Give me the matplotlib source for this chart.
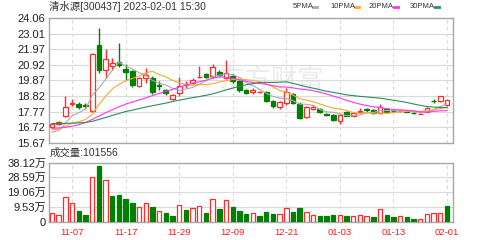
import matplotlib
matplotlib.use("Agg")
import matplotlib.pyplot as plt
from matplotlib.patches import Rectangle
from matplotlib.lines import Line2D
import numpy as np

plt.rcParams['font.family'] = ['Liberation Sans', 'Noto Sans CJK SC']

# trading days 2022-11-02 .. 2023-02-01
dates = ['11-02', '11-03', '11-04', '11-07', '11-08', '11-09', '11-10', '11-11',
         '11-14', '11-15', '11-16', '11-17', '11-18', '11-21', '11-22', '11-23',
         '11-24', '11-25', '11-28', '11-29', '11-30', '12-01', '12-02', '12-05',
         '12-06', '12-07', '12-08', '12-09', '12-12', '12-13', '12-14', '12-15',
         '12-16', '12-19', '12-20', '12-21', '12-22', '12-23', '12-26', '12-27',
         '12-28', '12-29', '12-30', '01-03', '01-04', '01-05', '01-06', '01-09',
         '01-10', '01-11', '01-12', '01-13', '01-16', '01-17', '01-18', '01-19',
         '01-20', '01-30', '01-31', '02-01']
tick_dates = ['11-07', '11-17', '11-29', '12-09', '12-21', '01-03', '01-13', '02-01']

opens = [16.75, 16.95, 17.45, 18.30, 18.29, 18.20, 17.84, 22.28, 20.54, 20.83,
         21.10, 20.66, 20.47, 19.50, 20.02, 20.04, 19.53, 19.20, 18.63, 19.03,
         19.54, 19.70, 20.07, 20.27, 20.14, 20.44, 20.04, 20.17, 19.84, 19.23,
         19.07, 19.08, 19.10, 18.50, 18.10, 18.36, 18.95, 18.30, 17.42, 17.98,
         17.94, 17.65, 17.56, 17.16, 17.76, 17.49, 17.75, 17.92, 17.89, 17.70,
         17.94, 17.85, 17.79, 17.80, 17.70, 17.62, 17.76, 18.52, 18.46, 18.20]
highs = [16.98, 17.12, 18.85, 18.65, 18.40, 18.33, 21.70, 23.36, 22.01, 21.37,
         22.37, 21.00, 20.58, 20.10, 20.69, 20.17, 19.84, 19.30, 18.95, 20.11,
         19.84, 20.00, 20.81, 20.35, 20.98, 20.57, 21.25, 20.31, 19.90, 19.30,
         19.37, 19.15, 19.15, 18.55, 18.50, 19.35, 19.00, 18.43, 18.15, 18.20,
         18.00, 17.70, 17.60, 17.60, 17.82, 17.75, 18.03, 18.00, 17.95, 18.30,
         18.00, 17.92, 17.95, 17.85, 17.74, 17.67, 18.08, 18.63, 18.85, 18.60]
lows = [16.70, 16.90, 17.42, 18.12, 17.97, 18.02, 17.72, 20.40, 20.00, 20.60,
        20.80, 19.87, 19.46, 19.44, 19.68, 18.97, 19.23, 18.90, 18.58, 18.80,
        19.37, 19.64, 20.04, 20.00, 20.04, 20.11, 19.97, 19.70, 19.10, 18.95,
        18.97, 19.03, 18.45, 18.05, 17.98, 18.23, 18.30, 17.26, 17.38, 17.90,
        17.68, 17.50, 17.15, 16.96, 17.45, 17.45, 17.70, 17.78, 17.65, 17.65,
        17.68, 17.75, 17.72, 17.72, 17.60, 17.60, 17.73, 18.38, 18.42, 18.15]
closes = [16.92, 17.08, 18.10, 18.36, 18.06, 18.15, 21.67, 20.54, 21.29, 21.06,
          20.88, 20.42, 19.57, 20.02, 20.24, 19.10, 19.47, 19.00, 18.90, 19.50,
          19.64, 19.91, 20.10, 20.10, 20.78, 20.21, 20.34, 19.84, 19.20, 19.03,
          19.20, 19.10, 18.50, 18.17, 18.45, 19.10, 18.34, 17.36, 18.10, 18.06,
          17.74, 17.55, 17.19, 17.56, 17.49, 17.69, 17.85, 17.88, 17.67, 18.10,
          17.73, 17.82, 17.85, 17.77, 17.66, 17.65, 18.03, 18.47, 18.80, 18.57]

ma5 = [16.40, 16.50, 17.00, 17.50, 17.70, 17.95, 18.87, 19.36, 19.94, 20.54,
       21.09, 20.84, 20.64, 20.39, 20.23, 19.87, 19.68, 19.57, 19.34, 19.19,
       19.30, 19.39, 19.61, 19.85, 20.11, 20.22, 20.31, 20.25, 20.07, 19.72,
       19.52, 19.27, 19.01, 18.80, 18.68, 18.66, 18.51, 18.28, 18.27, 18.19,
       17.92, 17.76, 17.73, 17.62, 17.51, 17.50, 17.56, 17.69, 17.72, 17.84,
       17.85, 17.84, 17.83, 17.85, 17.77, 17.75, 17.79, 17.92, 18.12, 18.30]
ma10 = [16.55, 16.60, 16.80, 17.00, 17.10, 17.25, 17.60, 18.25, 18.80, 19.30,
        19.60, 19.85, 20.00, 20.17, 20.38, 20.48, 20.26, 20.11, 19.87, 19.71,
        19.59, 19.54, 19.59, 19.60, 19.65, 19.76, 19.85, 19.93, 19.96, 19.92,
        19.87, 19.79, 19.63, 19.44, 19.20, 19.09, 18.89, 18.65, 18.54, 18.44,
        18.29, 18.14, 18.01, 17.95, 17.85, 17.71, 17.66, 17.71, 17.67, 17.67,
        17.67, 17.70, 17.76, 17.79, 17.80, 17.80, 17.82, 17.88, 17.99, 18.04]
ma20 = [16.65, 16.68, 16.72, 16.80, 16.90, 17.05, 17.25, 17.48, 17.70, 17.90,
        18.10, 18.28, 18.42, 18.56, 18.70, 18.85, 19.00, 19.13, 19.27, 19.42,
        19.55, 19.69, 19.79, 19.88, 20.02, 20.12, 20.05, 20.02, 19.91, 19.81,
        19.73, 19.66, 19.61, 19.52, 19.43, 19.43, 19.37, 19.29, 19.25, 19.18,
        19.08, 18.96, 18.82, 18.69, 18.53, 18.40, 18.28, 18.18, 18.10, 18.06,
        17.98, 17.92, 17.89, 17.87, 17.83, 17.75, 17.74, 17.79, 17.83, 17.85]
ma30 = [16.98, 16.98, 16.99, 17.00, 17.02, 17.05, 17.12, 17.25, 17.38, 17.52,
        17.65, 17.78, 17.88, 17.98, 18.08, 18.17, 18.26, 18.35, 18.45, 18.55,
        18.63, 18.71, 18.79, 18.87, 18.97, 19.10, 19.23, 19.36, 19.47, 19.58,
        19.66, 19.73, 19.74, 19.73, 19.75, 19.78, 19.67, 19.56, 19.45, 19.35,
        19.25, 19.15, 19.07, 18.99, 18.90, 18.85, 18.80, 18.76, 18.72, 18.68,
        18.61, 18.54, 18.47, 18.39, 18.29, 18.20, 18.12, 18.08, 18.06, 18.05]

# volume in 万 shares, and whether the bar is drawn as "up" (red) or "down" (green)
volume = [5.6, 4.5, 16.2, 12.0, 7.3, 4.5, 28.6, 35.9, 26.9, 16.9,
          17.3, 14.7, 12.0, 9.4, 12.0, 9.8, 7.0, 5.6, 4.0, 10.9,
          7.5, 8.8, 10.2, 6.0, 14.7, 8.1, 14.1, 9.8, 7.0, 5.3,
          5.5, 3.8, 6.6, 5.1, 5.1, 8.8, 6.6, 8.8, 6.6, 4.5,
          3.6, 3.6, 4.3, 4.3, 3.6, 3.6, 4.7, 3.6, 3.0, 8.1,
          4.5, 3.0, 3.6, 3.0, 2.1, 2.1, 5.1, 5.5, 5.5, 10.1556]
vol_up = [1, 1, 1, 1, 0, 0, 1, 0, 1, 0,
          0, 0, 0, 1, 1, 0, 1, 0, 0, 1,
          0, 1, 1, 0, 1, 0, 1, 0, 0, 0,
          1, 0, 0, 0, 1, 1, 0, 0, 1, 1,
          0, 0, 0, 1, 0, 1, 1, 1, 0, 1,
          0, 0, 1, 0, 0, 1, 1, 1, 1, 0]

price_ticks = [15.67, 16.72, 17.77, 18.82, 19.87, 20.92, 21.97, 23.01, 24.06]
vol_ticks = [0, 9.53, 19.06, 28.59, 38.12]
vol_labels = ['0', '9.53万', '19.06万', '28.59万', '38.12万']

RED = '#ff2a2a'
GREEN = '#008000'
GRID = '#dadada'
FRAME = '#a8a8a8'
TXT = '#222222'

fig = plt.figure(figsize=(5.02, 2.40), dpi=100)
ax = fig.add_axes([49 / 502, 1 - 143 / 240, 404 / 502, 125 / 240])
axv = fig.add_axes([49 / 502, 1 - 222 / 240, 404 / 502, 59.5 / 240])

x = np.arange(len(dates))
tick_idx = [dates.index(d) for d in tick_dates]

for a in (ax, axv):
    a.set_xlim(-0.45, 59.9)
    a.set_xticks(tick_idx)
    a.grid(axis='x', color=GRID, lw=0.8, linestyle=(0, (3, 3)))
    a.grid(axis='y', color=GRID, lw=0.8)
    a.set_axisbelow(True)
    for s in a.spines.values():
        s.set_color(FRAME)
        s.set_linewidth(1)
    a.tick_params(length=0, labelsize=8, colors=TXT)

# watermark
ax.text(0.55, 0.50, '东方财富', transform=ax.transAxes, fontsize=19,
        color='#ececec', ha='center', va='center', zorder=0)

# candles
for i in x:
    o, h, l, c = opens[i], highs[i], lows[i], closes[i]
    col = RED if c >= o else GREEN
    ax.vlines(i, l, h, color=col, lw=1, zorder=2)
    ax.add_patch(Rectangle((i - 0.35, min(o, c)), 0.7, max(abs(c - o), 0.02),
                           facecolor='white' if c >= o else GREEN,
                           edgecolor=col, lw=0.9, zorder=3))

ax.plot(x, ma5, color='#aaaaaa', lw=0.8, zorder=4)
ax.plot(x, ma10, color='#f7a833', lw=0.8, zorder=4)
ax.plot(x, ma20, color='#ff33ff', lw=0.8, zorder=4)
ax.plot(x, ma30, color='#2e8b57', lw=0.8, zorder=4)

ax.set_ylim(15.67, 24.06)
ax.set_yticks(price_ticks)
ax.set_yticklabels(['%.2f' % t for t in price_ticks])
ax.tick_params(axis='y', pad=3)
ax.set_xticklabels([])

# volume
for i in x:
    up = vol_up[i]
    col = RED if up else GREEN
    axv.add_patch(Rectangle((i - 0.33, 0), 0.66, volume[i],
                            facecolor='white' if up else GREEN,
                            edgecolor=col, lw=0.9, zorder=3))
axv.set_ylim(0, 38.12)
axv.set_yticks(vol_ticks)
axv.set_yticklabels(vol_labels)
axv.tick_params(axis='y', pad=2)
axv.set_xticklabels(tick_dates)
axv.tick_params(axis='x', labelsize=6.8, labelcolor='#ff1a1a', pad=4)

# header texts
fig.text(49 / 502, 1 - 7 / 240, '清水源[300437] 2023-02-01 15:30', fontsize=7.5,
         color='#333333', va='center', ha='left')
fig.text(50 / 502, 1 - 153 / 240, '成交量:101556', fontsize=7.5,
         color='#333333', va='center', ha='left')

legend = [('5PMA', '#aaaaaa', 293), ('10PMA', '#f7a833', 330),
          ('20PMA', '#ff33ff', 369), ('30PMA', '#2e8b57', 410)]
for name, col, px in legend:
    t = fig.text(px / 502, 1 - 7 / 240, name, fontsize=5.5, color='#333333',
                 va='center', ha='left')
    off = 20 if name == '5PMA' else 25
    fig.add_artist(Line2D([(px + off) / 502, (px + off + 4) / 502],
                          [1 - 7 / 240, 1 - 7 / 240], color=col, lw=2,
                          transform=fig.transFigure))

fig.savefig('out.png', dpi=100)
